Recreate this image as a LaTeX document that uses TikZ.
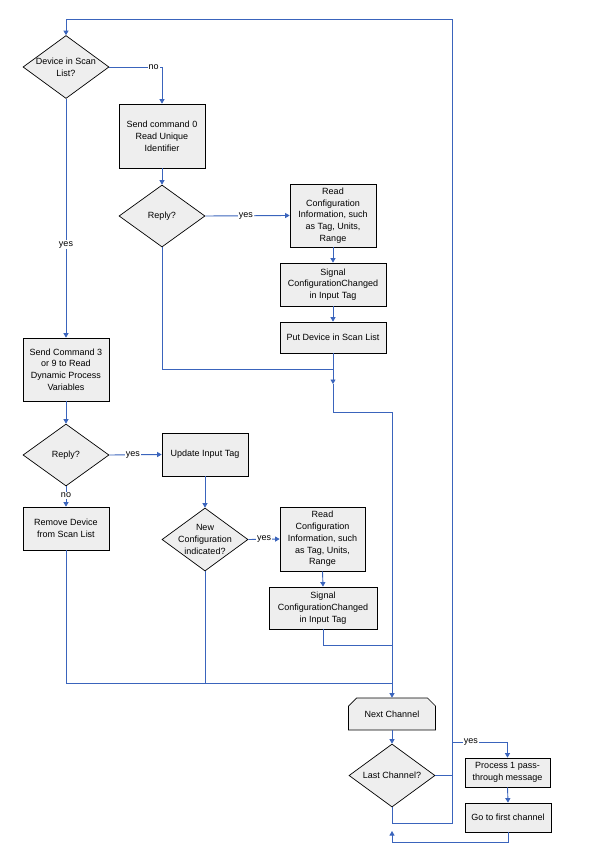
\documentclass[tikz,border=0pt]{standalone}
\usepackage{fontspec}
\setmainfont{Liberation Sans}
\usepackage{xcolor}
\usepackage{tikz}
\usetikzlibrary{shapes.geometric, shapes.misc, positioning, calc, arrows.meta}
\definecolor{FlowBlue}{RGB}{58,100,188}
\definecolor{BoxGray}{RGB}{238,238,238}
\tikzset{
    stepbox/.style={
        draw=black, fill=BoxGray, line width=0.7pt, align=center,
        inner sep=1pt, font=\fontsize{9}{11.8}\selectfont
    },
    askdiamond/.style={
        diamond, draw=black, fill=BoxGray, line width=0.7pt, align=center,
        inner sep=-12pt, minimum width=86pt, minimum height=63pt,
        font=\fontsize{9}{11.8}\selectfont
    },
    loopbox/.style={
        chamfered rectangle, chamfered rectangle corners={north west, north east},
        chamfered rectangle xsep=4pt, chamfered rectangle ysep=4pt,
        draw=black, fill=BoxGray, line width=0.7pt,
        font=\fontsize{9}{11.8}\selectfont
    },
    flowline/.style={
        draw=FlowBlue, line width=0.9pt
    },
    flowptr/.style={
        flowline, -{Triangle[length=4.5pt,width=5pt]}, FlowBlue
    },
    flowlabel/.style={
        font=\fontsize{9}{10}\selectfont, fill=white, inner sep=1pt, text=black
    }
}
\begin{document}
\begin{tikzpicture}[x=1pt, y=-1pt]
    \useasboundingbox (0,0) rectangle (595,858);

    % 1. CÁC NÚT
    \node[askdiamond] (dev) at (66,67) {Device in Scan\\List?};
    \node[stepbox, minimum width=86pt, minimum height=64pt] (cmd0) at (162,136) {Send command 0\\Read Unique\\Identifier};
    \node[askdiamond, minimum height=62pt] (rep1) at (162,216) {Reply?};
    \node[stepbox, minimum width=86pt, minimum height=63pt] (rcfg1) at (333,215.5) {Read\\Configuration\\Information, such\\as Tag, Units,\\Range};
    \node[stepbox, minimum width=106pt, minimum height=43pt] (sig1) at (333,284.5) {Signal\\ConfigurationChanged\\in Input Tag};
    \node[stepbox, minimum width=106pt, minimum height=31pt] (put) at (333,337.5) {Put Device in Scan List};

    \node[stepbox, minimum width=86pt, minimum height=63pt] (cmd3) at (66,369.5) {Send Command 3\\or 9 to Read\\Dynamic Process\\Variables};
    \node[askdiamond, minimum height=62pt] (rep2) at (66,455) {Reply?};
    \node[stepbox, minimum width=86pt, minimum height=43pt] (upd) at (205,454.5) {Update Input Tag};
    \node[stepbox, minimum width=86pt, minimum height=43pt] (rem) at (66,528.5) {Remove Device\\from Scan List};
    \node[askdiamond] (newcfg) at (205,539.5) {New\\Configuration\\indicated?};
    \node[stepbox, minimum width=85pt, minimum height=64pt] (rcfg2) at (322.5,539) {Read\\Configuration\\Information, such\\as Tag, Units,\\Range};
    \node[stepbox, minimum width=108pt, minimum height=42pt] (sig2) at (323,608) {Signal\\ConfigurationChanged\\in Input Tag};

    \node[loopbox, minimum width=87pt, minimum height=32pt] (next) at (392,714) {Next Channel};
    \node[askdiamond] (last) at (392,775.5) {Last Channel?};
    \node[stepbox, minimum width=85pt, minimum height=29pt] (proc) at (507.5,772.5) {Process 1 pass-\\through message};
    \node[stepbox, minimum width=86pt, minimum height=29pt] (gofirst) at (508,817.5) {Go to first channel};

    % 2. CÁC ĐIỂM NỐI
    \coordinate (mergeA) at (333,369);
    \coordinate (putmid) at (333,384);
    \coordinate (bend) at (333,412);
    \coordinate (mergeB) at (393,683);
    \coordinate (mergeC) at (393,645);
    \coordinate (rtop) at (452,19);
    \coordinate (rbot) at (452,823);
    \coordinate (ysplit) at (452,742);
    \coordinate (backtail) at (392,842);
    \coordinate (backhead) at (392,831);

    % 3. ĐƯỜNG NỐI
    \draw[flowptr] (dev.east) -| node[flowlabel, pos=0.42] {no} (cmd0.north);
    \draw[flowptr] (dev.south) -- node[flowlabel, pos=0.61] {yes} (cmd3.north);
    \draw[flowptr] (cmd0.south) -- (rep1.north);
    \draw[flowptr] (rep1.east) -- node[flowlabel, pos=0.48] {yes} (rcfg1.west);
    \draw[flowptr] (rcfg1.south) -- (sig1.north);
    \draw[flowptr] (sig1.south) -- (put.north);
    \draw[flowline] (rep1.south) |- (mergeA);
    \draw[flowptr] (put.south) -- (putmid);
    \draw[flowptr] (putmid) -- (bend) -| (next.north);

    \draw[flowptr] (cmd3.south) -- (rep2.north);
    \draw[flowptr] (rep2.east) -- node[flowlabel, pos=0.45] {yes} (upd.west);
    \draw[flowptr] (rep2.south) -- node[flowlabel, pos=0.45] {no} (rem.north);
    \draw[flowptr] (upd.south) -- (newcfg.north);
    \draw[flowptr] (newcfg.east) -- node[flowlabel, pos=0.5] {yes} (rcfg2.west);
    \draw[flowptr] (rcfg2.south) -- (sig2.north);
    \draw[flowline] (sig2.south) |- (mergeC);
    \draw[flowline] (rem.south) |- (mergeB);
    \draw[flowline] (newcfg.south) -- (newcfg.south |- mergeB);

    % 4. VÒNG LẶP KÊNH
    \draw[flowptr] (next.south) -- (last.north);
    \draw[flowline] (last.east) -- (last.east -| rtop);
    \draw[flowptr] (last.south) |- (rbot) -- (rtop) -| (dev.north);
    \draw[flowptr] (ysplit) -| node[flowlabel, pos=0.17] {yes} (proc.north);
    \draw[flowptr] (proc.south) -- (gofirst.north);
    \draw[flowptr] (gofirst.south) |- (backtail) -- (backhead);
\end{tikzpicture}
\end{document}
